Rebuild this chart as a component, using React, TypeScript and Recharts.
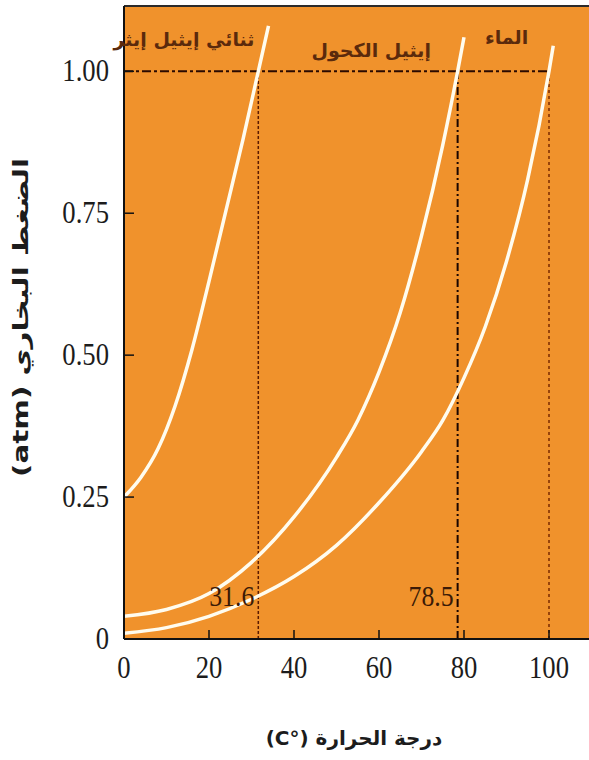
import React from 'react';
import { LineChart, Line, XAxis, YAxis, CartesianGrid, ReferenceLine, LabelList } from 'recharts';

// vapour pressure (atm) against temperature (°C)
const etherTemp = [0, 4, 8, 12, 16, 20, 24, 28, 31.6, 34];
const etherPressure = [0.25, 0.285, 0.335, 0.41, 0.51, 0.63, 0.755, 0.88, 1.0, 1.08];

const ethanolTemp = [0, 10, 20, 30, 40, 50, 55, 60, 65, 70, 75, 78.5, 80];
const ethanolPressure = [0.04, 0.052, 0.08, 0.135, 0.215, 0.32, 0.385, 0.47, 0.575, 0.71, 0.87, 1.0, 1.06];

const waterTemp = [0, 10, 20, 30, 40, 50, 60, 70, 75, 80, 85, 90, 95, 100, 101];
const waterPressure = [0.01, 0.02, 0.04, 0.07, 0.11, 0.165, 0.24, 0.33, 0.385, 0.46, 0.55, 0.665, 0.81, 1.0, 1.045];

const seriesNames = ['ثنائي إيثيل إيثر', 'إيثيل الكحول', 'الماء'];
const boilingPoints = [31.6, 78.5, 100];
const atmosphere = 1.0;

const xTicks = [0, 20, 40, 60, 80, 100];
const yTicks = [0, 0.25, 0.5, 0.75, 1.0];

const X_MAX = 112;
const Y_MAX = 1.115;

const ORANGE = '#F0922C';
const CURVE = '#fffcef';
const NUM_FONT = '"Liberation Serif", "Times New Roman", serif';
const AR_FONT = '"DejaVu Sans", sans-serif';

const zip = (t: number[], p: number[]) => t.map((v, i) => ({ t: v, p: p[i] }));
const etherData = zip(etherTemp, etherPressure);
const ethanolData = zip(ethanolTemp, ethanolPressure);
const waterData = zip(waterTemp, waterPressure);

const Num = ({ x, y, anchor, children, size = 31, fill = '#1c1c1c' }: any) => (
  <text
    transform={`translate(${x},${y}) scale(0.86,1)`}
    textAnchor={anchor}
    fontFamily={NUM_FONT}
    fontSize={size}
    fill={fill}
  >
    {children}
  </text>
);

const XTick = ({ x, y, payload }: any) => (
  <g>
    {payload.value !== 0 && <line x1={x} x2={x} y1={y} y2={y - 9} stroke="#111" strokeWidth={1.5} />}
    <Num x={x} y={y + 39} anchor="middle">{payload.value}</Num>
  </g>
);

const YTick = ({ x, y, payload }: any) => (
  <g>
    {payload.value !== 0 && <line x1={x + 15} x2={x + 25} y1={y} y2={y} stroke="#111" strokeWidth={1.5} />}
    <Num x={x} y={y + 10} anchor="end">{payload.value === 0 ? '0' : payload.value.toFixed(2)}</Num>
  </g>
);

const XTitle = ({ viewBox }: any) => (
  <text
    x={viewBox.x + viewBox.width / 2 - 8}
    y={viewBox.y + 106}
    direction="rtl"
    textAnchor="middle"
    fontFamily={AR_FONT}
    fontSize={20}
    fontWeight="bold"
    fill="#1c1c1c"
  >
    درجة الحرارة (°C)
  </text>
);

const YTitle = ({ viewBox }: any) => (
  <text
    transform={`translate(${viewBox.x + 21},${viewBox.y + viewBox.height / 2 - 5}) rotate(-90) scale(1.4,1)`}
    direction="rtl"
    textAnchor="middle"
    dominantBaseline="central"
    fontFamily={AR_FONT}
    fontSize={21}
    fontWeight="bold"
    fill="#1c1c1c"
  >
    الضغط البخاري (atm)
  </text>
);

// boiling point tag, to the left of the dashed line near the bottom
const BoilTag = ({ viewBox, text }: any) => {
  const bottom = Math.max(viewBox.y, viewBox.y + viewBox.height);
  return <Num x={viewBox.x - 4} y={bottom - 33} anchor="end" size={30} fill="#3b1a06">{text}</Num>;
};

const nameTag = (name: string, last: number, dx: number, dy: number) => (props: any) => {
  if (props.index !== last) return null;
  return (
    <text
      x={props.x + dx}
      y={props.y + dy}
      textAnchor="end"
      fontFamily={AR_FONT}
      fontSize={19}
      fontWeight="bold"
      fill="#5b2a0c"
    >
      {name}
    </text>
  );
};

export default function App() {
  return (
    <div style={{ position: 'fixed', left: 0, top: 0, width: 589, height: 760, overflow: 'hidden', background: '#fff' }}>
      <LineChart width={600} height={760} margin={{ top: 6, right: 0, bottom: 0, left: 0 }}>
        <CartesianGrid horizontal={false} vertical={false} fill={ORANGE} fillOpacity={1} stroke="none" />
        <XAxis
          type="number"
          dataKey="t"
          domain={[0, X_MAX]}
          allowDataOverflow
          ticks={xTicks}
          height={121}
          tickSize={0}
          tickMargin={0}
          axisLine={{ stroke: '#111', strokeWidth: 2 }}
          tick={<XTick />}
          label={<XTitle />}
        />
        <YAxis
          type="number"
          dataKey="p"
          domain={[0, Y_MAX]}
          allowDataOverflow
          ticks={yTicks}
          width={124}
          tickSize={0}
          tickMargin={15}
          axisLine={{ stroke: '#111', strokeWidth: 2 }}
          tick={<YTick />}
          label={<YTitle />}
        />
        <ReferenceLine y={Y_MAX} stroke="#2b2b2b" strokeWidth={2} />
        <ReferenceLine
          segment={[{ x: 0, y: atmosphere }, { x: boilingPoints[2], y: atmosphere }]}
          stroke="#2a0a00"
          strokeWidth={2}
          strokeDasharray="9 3 3 3"
        />
        <ReferenceLine
          segment={[{ x: boilingPoints[0], y: 0 }, { x: boilingPoints[0], y: atmosphere }]}
          stroke="#5a1a00"
          strokeWidth={1.5}
          strokeDasharray="3 2"
        />
        <ReferenceLine
          segment={[{ x: boilingPoints[1], y: 0 }, { x: boilingPoints[1], y: atmosphere }]}
          stroke="#1a0500"
          strokeWidth={2}
          strokeDasharray="8 3 2 3"
        />
        <ReferenceLine
          segment={[{ x: boilingPoints[2], y: 0 }, { x: boilingPoints[2], y: atmosphere }]}
          stroke="#7a2a00"
          strokeWidth={1.5}
          strokeDasharray="3 3"
        />
        <Line data={etherData} dataKey="p" type="monotone" stroke={CURVE} strokeWidth={3.5} dot={false} isAnimationActive={false}>
          <LabelList dataKey="p" content={nameTag(seriesNames[0], etherData.length - 1, -14, 20)} />
        </Line>
        <Line data={ethanolData} dataKey="p" type="monotone" stroke={CURVE} strokeWidth={3.5} dot={false} isAnimationActive={false}>
          <LabelList dataKey="p" content={nameTag(seriesNames[1], ethanolData.length - 1, -33, 20)} />
        </Line>
        <Line data={waterData} dataKey="p" type="monotone" stroke={CURVE} strokeWidth={3.5} dot={false} isAnimationActive={false}>
          <LabelList dataKey="p" content={nameTag(seriesNames[2], waterData.length - 1, -25, -2)} />
        </Line>
        <ReferenceLine
          segment={[{ x: boilingPoints[0], y: 0 }, { x: boilingPoints[0], y: atmosphere }]}
          stroke="none"
          label={<BoilTag text="31.6" />}
        />
        <ReferenceLine
          segment={[{ x: boilingPoints[1], y: 0 }, { x: boilingPoints[1], y: atmosphere }]}
          stroke="none"
          label={<BoilTag text="78.5" />}
        />
      </LineChart>
    </div>
  );
}
